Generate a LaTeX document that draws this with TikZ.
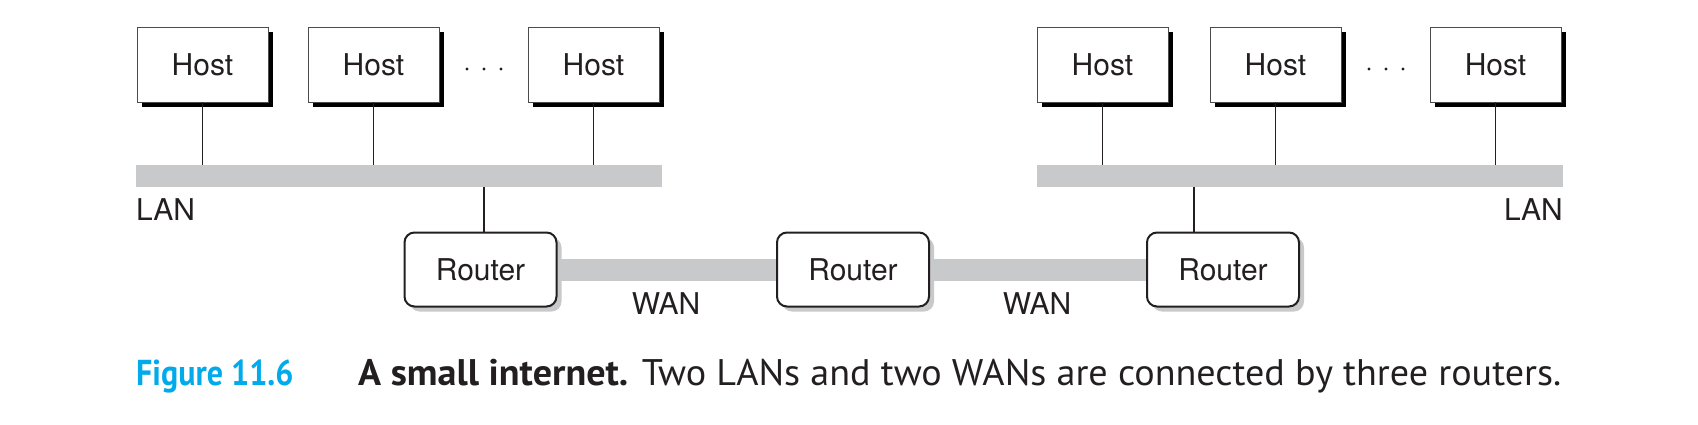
\documentclass[tikz,border=0pt]{standalone}
\usepackage{fontspec}
\setmainfont{TeX Gyre Heros}
\newfontfamily\capfont{PT Sans}
\usetikzlibrary{shadows,backgrounds}
\definecolor{bargray}{RGB}{200,201,203}
\definecolor{figcyan}{RGB}{0,170,235}
\definecolor{inkblack}{RGB}{35,31,32}
\begin{document}
\begin{tikzpicture}[x=1pt,y=-1pt,
  lbl/.style={font=\fontsize{30}{36}\selectfont, text=inkblack, inner sep=0pt},
  hostbox/.style={lbl, draw=black!70, line width=0.9pt, fill=white,
    minimum width=131pt, minimum height=75pt, text height=22pt, text depth=0pt,
    general shadow={fill=black, shadow xshift=4.5pt, shadow yshift=-4.5pt}},
  routerbox/.style={lbl, draw=inkblack, line width=2pt, fill=white, rounded corners=10pt,
    minimum width=152pt, minimum height=74pt, text height=22pt, text depth=0pt,
    general shadow={fill=bargray, shadow xshift=5pt, shadow yshift=-5pt}},
  lanbar/.style={fill=bargray, draw=none, minimum width=526pt, minimum height=22pt, inner sep=0pt},
  wanline/.style={draw=bargray, line width=22pt},
  tap/.style={draw=inkblack, line width=1.3pt},
  dot/.style={fill=inkblack, draw=none, circle, minimum size=3.2pt, inner sep=0pt},
  caption/.style={inner sep=0pt, anchor=base west}
]
\useasboundingbox (0,0) rectangle (1698,424);

% LAN bars
\node[lanbar] (lan1) at (399,176) {};
\node[lanbar] (lan2) at (1300,176) {};

% hosts
\node[hostbox] (h1) at (202.5,64.5) {Host};
\node[hostbox] (h2) at (373.5,64.5) {Host};
\node[hostbox] (h3) at (593.5,64.5) {Host};
\node[hostbox] (h4) at (1102.5,64.5) {Host};
\node[hostbox] (h5) at (1275.5,64.5) {Host};
\node[hostbox] (h6) at (1495.5,64.5) {Host};

% ellipses
\node[dot] (d1) at (467,69) {};
\node[dot] (d2) at (484,69) {};
\node[dot] (d3) at (501,69) {};
\node[dot] (d4) at (1369,69) {};
\node[dot] (d5) at (1386,69) {};
\node[dot] (d6) at (1403,69) {};

% routers
\node[routerbox] (r1) at (480.5,269.5) {Router};
\node[routerbox] (r2) at (853,269.5) {Router};
\node[routerbox] (r3) at (1223,269.5) {Router};

\begin{pgfonlayer}{background}
  \draw[wanline] (r1.east) -- (r2.west);
  \draw[wanline] (r2.east) -- (r3.west);
\end{pgfonlayer}

% host taps
\foreach \h in {h1,h2,h3} \draw[tap] (\h.south) -- (\h.south |- lan1.north);
\foreach \h in {h4,h5,h6} \draw[tap] (\h.south) -- (\h.south |- lan2.north);

% router taps
\coordinate (t1) at ([xshift=3.5pt]r1.north);
\coordinate (t3) at ([xshift=-29pt]r3.north);
\draw[tap] (t1) -- (t1 |- lan1.south);
\draw[tap] (t3) -- (t3 |- lan2.south);

% labels
\node[lbl, anchor=base west] (lanl) at (136,220) {LAN};
\node[lbl, anchor=base east] (lanr) at (1563,220) {LAN};
\node[lbl, anchor=base] (wan1) at (666,314) {WAN};
\node[lbl, anchor=base] (wan2) at (1037,314) {WAN};

% caption
\node[caption, text=figcyan] (fig) at (136,385) {\scalebox{0.89}[1]{\capfont\fontsize{36}{42}\selectfont\bfseries Figure 11.6}};
\node[caption, text=inkblack] (cap) at (358,385) {\scalebox{1.03}[1]{\capfont\fontsize{37}{44}\selectfont\textbf{A small internet.} Two LANs and two WANs are connected by three routers.}};
\end{tikzpicture}
\end{document}
